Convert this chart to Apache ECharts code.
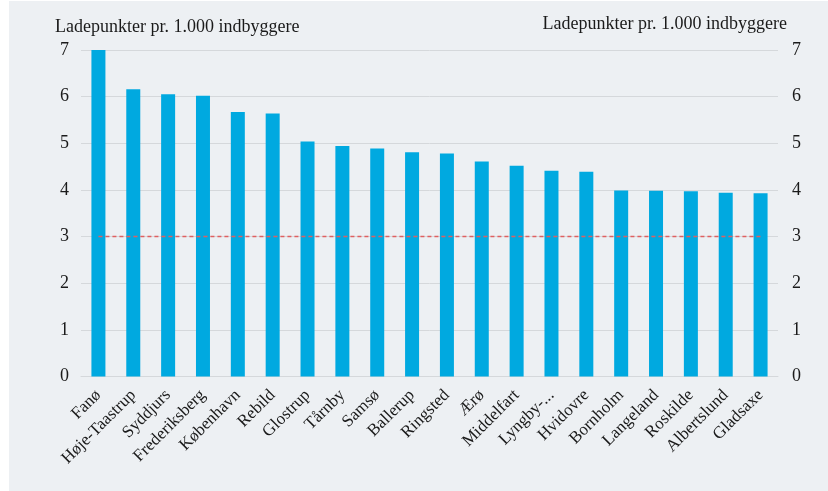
<!DOCTYPE html>
<html>
<head>
<meta charset="utf-8">
<script src="https://cdn.jsdelivr.net/npm/echarts@6/dist/echarts.min.js"></script>
<style>
    html, body { margin: 0; padding: 0; background: #ffffff; }
    #chart { position: absolute; left: 9px; top: 1px; width: 819px; height: 490px; }
</style>
</head>
<body>
<div id="chart"></div>
<script>
var kommuner = ['Fanø', 'Høje-Taastrup', 'Syddjurs', 'Frederiksberg', 'København', 'Rebild', 'Glostrup', 'Tårnby', 'Samsø', 'Ballerup',
    'Ringsted', 'Ærø', 'Middelfart', 'Lyngby-...', 'Hvidovre', 'Bornholm', 'Langeland', 'Roskilde', 'Albertslund', 'Gladsaxe'];
var ladepunkter = [7.0, 6.16, 6.05, 6.02, 5.67, 5.64, 5.04, 4.94, 4.89, 4.81,
    4.78, 4.61, 4.52, 4.41, 4.39, 3.99, 3.98, 3.97, 3.94, 3.93];
var maal = [3, 3, 3, 3, 3, 3, 3, 3, 3, 3, 3, 3, 3, 3, 3, 3, 3, 3, 3, 3];
var yTicks = ['0', '1', '2', '3', '4', '5', '6', '7'];
var aksetitel = 'Ladepunkter pr. 1.000 indbyggere';

var font = 'Liberation Serif';

var myChart = echarts.init(document.getElementById('chart'));
var option = {
    backgroundColor: '#edf0f3',
    animation: false,
    title: [
        {
            text: aksetitel,
            left: 41,
            top: 12,
            textStyle: {fontFamily: font, fontSize: 18, fontWeight: 'normal', color: '#1a1a1a'}
        },
        {
            text: aksetitel,
            right: 36,
            top: 9,
            textStyle: {fontFamily: font, fontSize: 18, fontWeight: 'normal', color: '#1a1a1a'}
        }
    ],
    grid: {left: 72, right: 50, top: 49, bottom: 114.5, containLabel: false},
    xAxis: {
        type: 'category',
        data: kommuner,
        axisLine: {show: true, lineStyle: {color: '#d5d8db'}},
        axisTick: {show: false},
        axisLabel: {
            interval: 0,
            rotate: 45,
            margin: 16,
            fontFamily: font,
            fontSize: 17,
            color: '#1a1a1a'
        }
    },
    yAxis: [
        {
            type: 'value', min: 0, max: 7, interval: 1, position: 'left',
            axisLine: {show: false}, axisTick: {show: false},
            splitLine: {lineStyle: {color: '#d5d8db'}},
            axisLabel: {
                margin: 12, fontFamily: font, fontSize: 18, color: '#1a1a1a',
                formatter: function (v) { return yTicks[v]; }
            }
        },
        {
            type: 'value', min: 0, max: 7, interval: 1, position: 'right',
            axisLine: {show: false}, axisTick: {show: false},
            splitLine: {show: false},
            axisLabel: {
                margin: 14, fontFamily: font, fontSize: 18, color: '#1a1a1a',
                formatter: function (v) { return yTicks[v]; }
            }
        }
    ],
    series: [
        {
            name: 'Ladepunkter',
            type: 'bar',
            data: ladepunkter,
            barWidth: 14,
            itemStyle: {color: '#00a9e0'}
        },
        {
            name: 'Maal',
            type: 'line',
            data: maal,
            symbol: 'none',
            lineStyle: {color: '#e06060', width: 1.5, type: [4, 3]},
            z: 3
        }
    ]
};
myChart.setOption(option);
</script>
</body>
</html>
